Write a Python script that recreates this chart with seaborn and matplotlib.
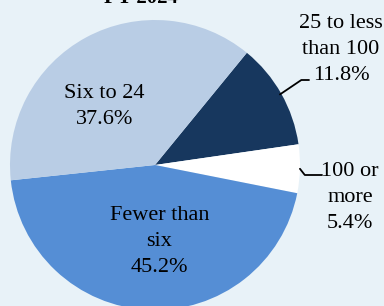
import matplotlib.pyplot as plt
import seaborn as sns
import numpy as np

# Data
categories = ['25 to less\nthan 100', '100 or\nmore', 'Fewer than\nsix', 'Six to 24']
shares = [11.8, 5.4, 45.2, 37.6]
colors = ['#17375e', '#ffffff', '#558ed5', '#b9cde5']
title = 'FY 2024'

bg = '#e8f2f8'
sns.set_theme(style='white', rc={'figure.facecolor': bg, 'axes.facecolor': bg,
                                 'text.color': 'black'})
plt.rcParams['font.family'] = ['Liberation Serif', 'DejaVu Serif']

fig = plt.figure(figsize=(3.84, 3.06), dpi=100)
ax = fig.add_axes([0, 0, 1, 1])

wedges, _ = ax.pie(shares, colors=colors, startangle=50.7, counterclock=False,
                   radius=1, wedgeprops=dict(linewidth=0))

# pie centre at (155, 165) px, radius 145 px
r = 145.0
cx, cy = 155.0, 165.0
ax.set_aspect('auto')
ax.set_xlim(-cx / r, (384 - cx) / r)
ax.set_ylim(-(306 - cy) / r, cy / r)
ax.axis('off')


def px(x, y):
    # pixel position -> data coords
    return (x - cx) / r, (cy - y) / r


def mid(w, rad=1.0):
    a = np.deg2rad((w.theta1 + w.theta2) / 2)
    return rad * np.cos(a), rad * np.sin(a)


labels = [f'{c}\n{s}%' for c, s in zip(categories, shares)]
fs = 16
ls = 1.5
kw = dict(ha='center', va='baseline', fontsize=fs, linespacing=ls)

# anchored at the baseline of the last line
ax.text(*px(104.5, 124), labels[3], **kw)
ax.text(*px(159.5, 272), labels[2], **kw)
ax.text(*px(341, 80), labels[0], **kw)
ax.text(*px(350, 228), labels[1], **kw)

# leader lines
line = dict(arrowstyle='-', color='black', lw=1.3, shrinkA=0, shrinkB=0)
ax.annotate('', xy=mid(wedges[0], 0.99), xytext=px(309, 80),
            arrowprops=dict(connectionstyle='angle,angleA=0,angleB=34,rad=0', **line))
ax.annotate('', xy=mid(wedges[1], 1.0), xytext=px(322, 175),
            arrowprops=dict(connectionstyle='angle,angleA=0,angleB=-52,rad=0', **line))

ax.text(-0.10, (cy - 3) / r, title, ha='center', va='baseline',
        fontsize=15, fontweight='bold')

fig.savefig('out.png', dpi=100, facecolor=bg)
